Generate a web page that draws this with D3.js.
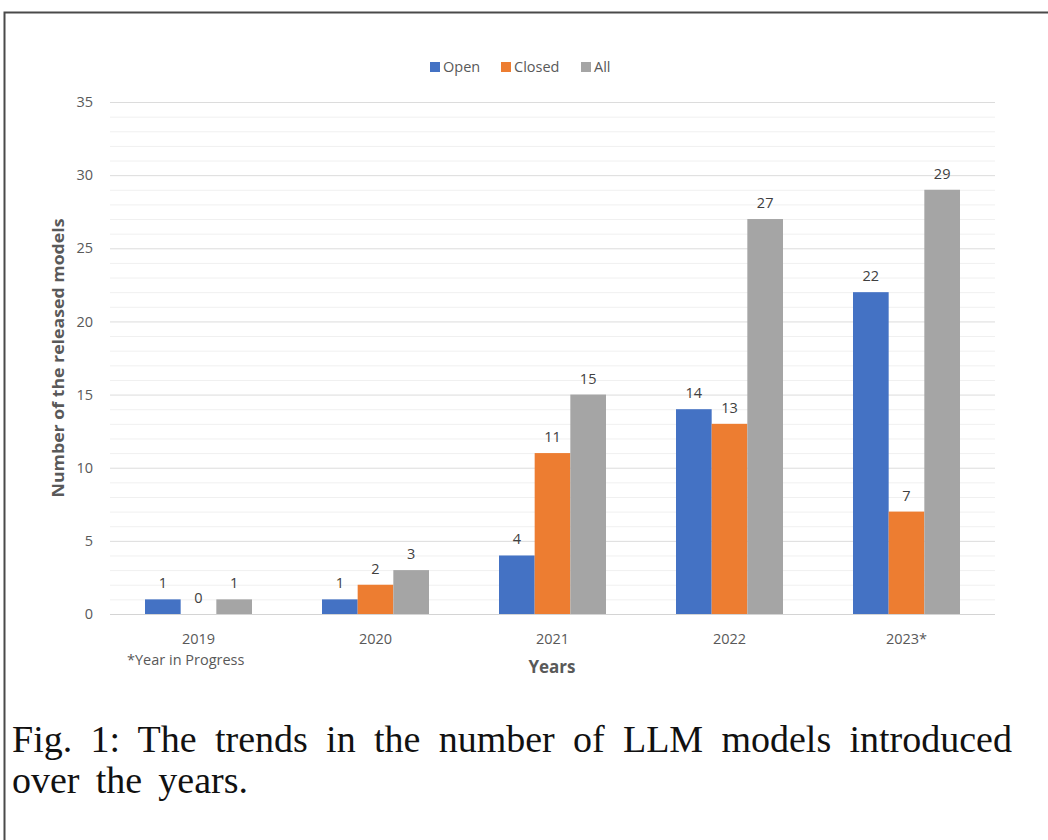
<!DOCTYPE html>
<html>
<head>
<meta charset="utf-8">
<script src="https://cdn.jsdelivr.net/npm/d3@7"></script>
<style>
  body { margin: 0; background: #fff; }
  svg { display: block; }
</style>
</head>
<body>
<svg id="chart" width="1048" height="840"></svg>
<script>
// values
const years = ["2019", "2020", "2021", "2022", "2023*"];
const series = ["Open", "Closed", "All"];
const openVals = [1, 1, 4, 14, 22];
const closedVals = [0, 2, 11, 13, 7];
const allVals = [1, 3, 15, 27, 29];
const yTicks = [0, 5, 10, 15, 20, 25, 30, 35];

const colors = { Open: "#4472C4", Closed: "#ED7D31", All: "#A5A5A5" };
const svg = d3.select("#chart");

// frame round the figure
svg.append("path")
    .attr("d", "M4.5,840 V12.5 H1048")
    .attr("fill", "none")
    .attr("stroke", "#4a4a4a")
    .attr("stroke-width", 2);

const plotL = 110, plotR = 995, plotT = 102, plotB = 614;

const x = d3.scaleBand().domain(years).range([plotL, plotR]);
// groups ~107px wide inside the 177px band
const x1 = d3.scaleBand().domain(series).range([35, x.bandwidth() - 35]);
const y = d3.scaleLinear().domain([0, 35]).range([plotB, plotT]);

// minor grid every 1, major every 5
svg.append("g").selectAll("line")
    .data(d3.range(0, 36).filter(v => v % 5 !== 0))
    .join("line")
    .attr("x1", plotL).attr("x2", plotR)
    .attr("y1", d => y(d) + 0.5).attr("y2", d => y(d) + 0.5)
    .attr("stroke", "#f0f0f0");

svg.append("g").selectAll("line")
    .data(yTicks)
    .join("line")
    .attr("x1", plotL).attr("x2", plotR)
    .attr("y1", d => y(d) + 0.5).attr("y2", d => y(d) + 0.5)
    .attr("stroke", d => d === 0 ? "#d4d4d4" : "#dcdcdc");

const font = "'Open Sans', 'Noto Sans', sans-serif";
const fs = 14.5;

// y tick labels
svg.append("g").selectAll("text")
    .data(yTicks)
    .join("text")
    .attr("x", 93).attr("y", d => y(d))
    .attr("dy", "0.35em")
    .attr("text-anchor", "end")
    .attr("font-family", font).attr("font-size", fs)
    .attr("fill", "#595959")
    .text(d => d);

// x labels
svg.append("g").selectAll("text")
    .data(years)
    .join("text")
    .attr("x", d => x(d) + x.bandwidth() / 2)
    .attr("y", 644)
    .attr("text-anchor", "middle")
    .attr("font-family", font).attr("font-size", fs)
    .attr("fill", "#595959")
    .text(d => d);

svg.append("text")
    .attr("x", 127).attr("y", 665)
    .attr("font-family", font).attr("font-size", fs)
    .attr("fill", "#595959")
    .text("*Year in Progress");

const rows = years.map((yr, i) => ({
  year: yr,
  values: [
    { key: "Open", v: openVals[i] },
    { key: "Closed", v: closedVals[i] },
    { key: "All", v: allVals[i] }
  ]
}));

const groups = svg.append("g").selectAll("g")
    .data(rows)
    .join("g")
    .attr("transform", d => `translate(${x(d.year)},0)`);

groups.selectAll("rect")
    .data(d => d.values)
    .join("rect")
    .attr("x", d => x1(d.key))
    .attr("width", x1.bandwidth())
    .attr("y", d => y(d.v))
    .attr("height", d => y(0) - y(d.v))
    .attr("fill", d => colors[d.key]);

groups.selectAll("text")
    .data(d => d.values)
    .join("text")
    .attr("x", d => x1(d.key) + x1.bandwidth() / 2)
    .attr("y", d => y(d.v) - 11)
    .attr("text-anchor", "middle")
    .attr("font-family", font).attr("font-size", fs)
    .attr("fill", "#404040")
    .text(d => d.v);

// axis titles
svg.append("text")
    .attr("transform", "translate(64,358) rotate(-90)")
    .attr("text-anchor", "middle")
    .attr("font-family", font).attr("font-size", 16.5).attr("font-weight", "bold")
    .attr("fill", "#595959")
    .attr("textLength", 279).attr("lengthAdjust", "spacingAndGlyphs")
    .text("Number of the released models");

svg.append("text")
    .attr("x", 552).attr("y", 673)
    .attr("text-anchor", "middle")
    .attr("font-family", font).attr("font-size", 17).attr("font-weight", "bold")
    .attr("fill", "#595959")
    .text("Years");

// legend
const legendX = [430, 501, 581];
const legend = svg.append("g").selectAll("g")
    .data(series)
    .join("g")
    .attr("transform", (d, i) => `translate(${legendX[i]},62)`);
legend.append("rect")
    .attr("width", 10).attr("height", 10)
    .attr("fill", d => colors[d]);
legend.append("text")
    .attr("x", 13).attr("y", 5)
    .attr("dy", "0.35em")
    .attr("font-family", font).attr("font-size", fs)
    .attr("fill", "#595959")
    .text(d => d);

// caption, justified to the frame width by widening word gaps
const caption = svg.append("g")
    .attr("font-family", "'Liberation Serif', 'Times New Roman', serif")
    .attr("font-size", 38)
    .attr("fill", "#111");
const line1 = caption.append("text").attr("x", 12).attr("y", 752)
    .text("Fig. 1: The trends in the number of LLM models introduced");
const line2 = caption.append("text").attr("x", 12).attr("y", 793)
    .text("over the years.");
const fit = (sel, width, gaps) => {
  const w = sel.node().getComputedTextLength();
  sel.attr("word-spacing", Math.max(0, (width - w) / gaps));
};
fit(line1, 1000, 10);
fit(line2, 236, 2);
</script>
</body>
</html>
